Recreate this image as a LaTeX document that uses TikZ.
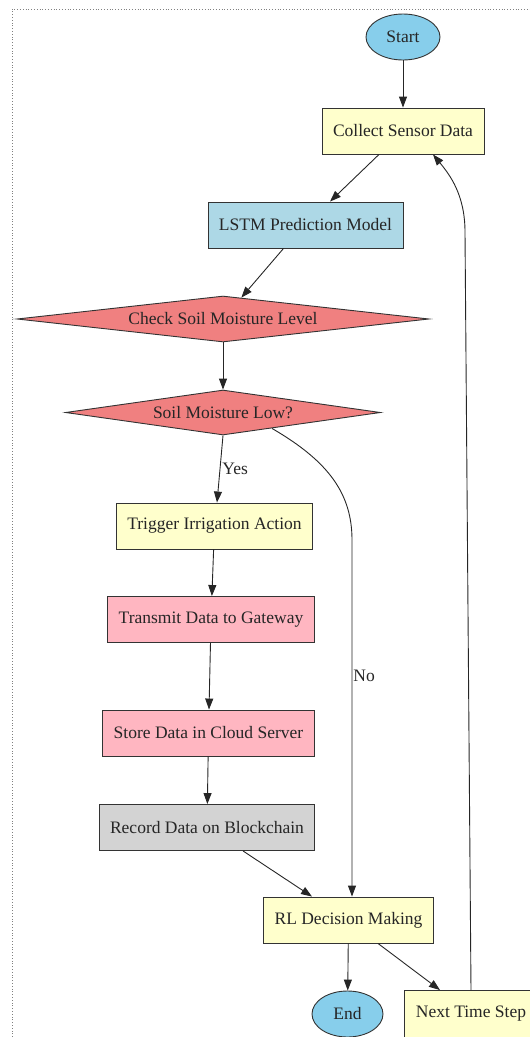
\documentclass[tikz,border=0pt]{standalone}
\usepackage{fontspec}
\setmainfont{Liberation Serif}
\usetikzlibrary{shapes.geometric, arrows.meta}

\definecolor{termblue}{HTML}{87CEEB}
\definecolor{modelblue}{HTML}{ADD8E6}
\definecolor{checkred}{HTML}{F08080}
\definecolor{stepyellow}{HTML}{FFFFCC}
\definecolor{netpink}{HTML}{FFB6C1}
\definecolor{chaingray}{HTML}{D3D3D3}

\tikzset{
  box/.style={rectangle, draw=black!80, line width=0.9pt, inner xsep=11pt, minimum height=46pt},
  term/.style={ellipse, draw=black!80, line width=0.9pt, fill=termblue, inner sep=0pt, minimum width=74pt, minimum height=46pt},
  decision/.style={diamond, draw=black!80, line width=0.9pt, fill=checkred, aspect=9, inner sep=0pt},
  flow/.style={draw=black!85, line width=0.9pt, -{Triangle[length=11pt, width=8pt]}}
}

\begin{document}
\begin{tikzpicture}[x=1pt, y=-1pt, font=\fontsize{17.5}{20}\selectfont, text=black!85]
  \useasboundingbox (0,0) rectangle (530,1037);
  \draw[gray, dotted, line width=0.8pt] (12,1037) -- (12,9) -- (530,9);

  \node[term] (start) at (403,37) {Start};
  \node[box, fill=stepyellow] (collect) at (403,131) {Collect Sensor Data};
  \node[box, fill=modelblue] (lstm) at (305.5,225) {LSTM Prediction Model};
  \node[decision, minimum width=412pt, minimum height=46pt] (check) at (223,319) {Check Soil Moisture Level};
  \node[decision, minimum width=315pt, minimum height=45pt] (low) at (223,412.5) {Soil Moisture Low?};
  \node[box, fill=stepyellow] (trigger) at (214.5,526) {Trigger Irrigation Action};
  \node[box, fill=netpink] (transmit) at (211,619.5) {Transmit Data to Gateway};
  \node[box, fill=netpink] (store) at (208.5,733) {Store Data in Cloud Server};
  \node[box, fill=chaingray] (record) at (207,827.5) {Record Data on Blockchain};
  \node[box, fill=stepyellow] (rl) at (348.5,920) {RL Decision Making};
  \node[term, minimum width=71pt] (endn) at (347.5,1014) {End};
  \node[box, fill=stepyellow, minimum height=47pt] (next) at (471,1014) {Next Time Step};

  \coordinate (nobend) at (352,540);
  \coordinate (loopbend) at (465,232);

  \draw[flow] (start) -- (collect);
  \draw[flow] ([xshift=-24pt]collect.south) -- ([xshift=24.5pt]lstm.north);
  \draw[flow] ([xshift=-22pt]lstm.south) -- (check);
  \draw[flow] (check.south) -- (low.north);
  \draw[flow] (low.south) -- node[right, inner sep=2pt] {Yes} ([xshift=2.5pt]trigger.north);
  \draw[flow] ([xshift=49pt, yshift=7pt]low.south) .. controls (330,462) and (352,495) .. (nobend)
    -- node[pos=0.38, right, inner sep=1pt] {No} ([xshift=3.5pt]rl.north);
  \draw[flow] (trigger) -- (transmit);
  \draw[flow] (transmit) -- (store);
  \draw[flow] (store) -- (record);
  \draw[flow] ([xshift=36pt]record.south) -- ([xshift=-36.5pt]rl.north);
  \draw[flow] (rl) -- (endn);
  \draw[flow] ([xshift=29.5pt]rl.south) -- ([xshift=-31pt]next.north);
  \draw[flow] (next.north) -- (loopbend) .. controls (465,195) and (450,175) .. ([xshift=30pt]collect.south);
\end{tikzpicture}
\end{document}
